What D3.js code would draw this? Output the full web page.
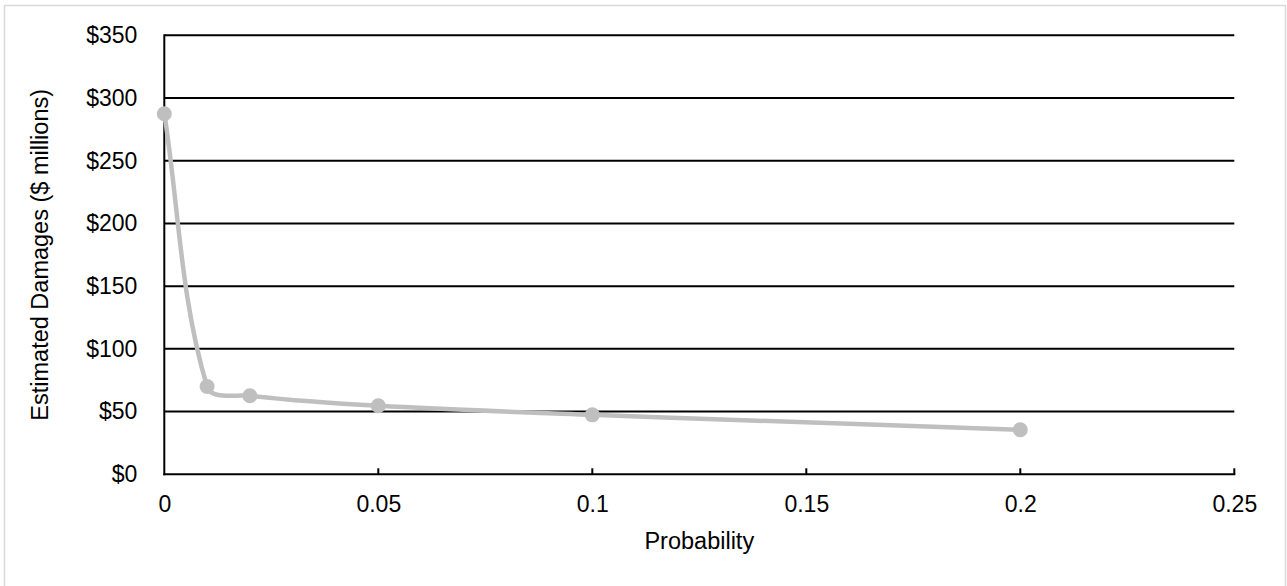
<!DOCTYPE html>
<html>
<head>
<meta charset="utf-8">
<script src="https://cdn.jsdelivr.net/npm/d3@7"></script>
<style>
html,body{margin:0;padding:0;background:#fff;}
svg{display:block;font-family:"Liberation Sans", Arial, sans-serif;}
</style>
</head>
<body>
<svg id="chart" width="1287" height="586"></svg>
<script>
const probabilities = [0, 0.01, 0.02, 0.05, 0.1, 0.2];
const damages = [287.5, 70, 62.6, 54.6, 47.4, 35.5];
const xTicks = [0, 0.05, 0.1, 0.15, 0.2, 0.25];
const yTicks = [0, 50, 100, 150, 200, 250, 300, 350];
const xTitle = "Probability";
const yTitle = "Estimated Damages ($ millions)";

const svg = d3.select("#chart");
const W = 1287, H = 586;
const m = {left: 164.3, right: 1234.3, top: 35.3, bottom: 474.3};

svg.append("rect").attr("x", 4.5).attr("y", 5.5).attr("width", W - 5.5 - 0.5).attr("height", H + 10)
  .attr("fill", "#fff").attr("stroke", "#d9d9d9").attr("stroke-width", 1.5);

const x = d3.scaleLinear().domain([0, 0.25]).range([m.left, m.right]);
const y = d3.scaleLinear().domain([0, 350]).range([m.bottom, m.top]);

// gridlines
svg.append("g").selectAll("line").data(yTicks.filter(d => d > 0)).join("line")
  .attr("x1", m.left).attr("x2", m.right)
  .attr("y1", d => y(d)).attr("y2", d => y(d))
  .attr("stroke", "#000").attr("stroke-width", 2);

// y axis
const yAxis = svg.append("g").attr("transform", `translate(${m.left},0)`)
  .call(d3.axisLeft(y).tickValues(yTicks).tickSize(0).tickPadding(27).tickFormat(d => "$" + d));
yAxis.select(".domain").remove();
yAxis.selectAll("text").attr("font-size", 23).attr("fill", "#000")
  .attr("font-family", "Liberation Sans, Arial, sans-serif");
svg.append("line").attr("x1", m.left).attr("x2", m.left).attr("y1", m.top - 1).attr("y2", m.bottom + 1)
  .attr("stroke", "#000").attr("stroke-width", 2);

// x axis (inside ticks)
const xAxis = svg.append("g").attr("transform", `translate(0,${m.bottom})`)
  .call(d3.axisBottom(x).tickValues(xTicks).tickSize(0).tickPadding(21).tickFormat(d => String(d)));
xAxis.select(".domain").remove();
xAxis.selectAll("text").attr("font-size", 23).attr("fill", "#000")
  .attr("font-family", "Liberation Sans, Arial, sans-serif");
svg.append("line").attr("x1", m.left - 1).attr("x2", m.right + 1).attr("y1", m.bottom).attr("y2", m.bottom)
  .attr("stroke", "#000").attr("stroke-width", 2);
svg.append("g").selectAll("line").data(xTicks.filter(d => d > 0)).join("line")
  .attr("x1", d => x(d)).attr("x2", d => x(d))
  .attr("y1", m.bottom).attr("y2", m.bottom - 6)
  .attr("stroke", "#000").attr("stroke-width", 2);

// series: Excel-like smoothed line (tangent from neighbours, control length ∝ segment length)
const pts = probabilities.map((p, i) => [p, damages[i]]);
function smoothPath(data) {
  const P = data.map(d => [x(d[0]), y(d[1])]);
  const n = P.length;
  const tan = P.map((p, i) => {
    const a = P[Math.max(0, i - 1)], b = P[Math.min(n - 1, i + 1)];
    const dx = b[0] - a[0], dy = b[1] - a[1], L = Math.hypot(dx, dy) || 1;
    return [dx / L, dy / L];
  });
  const path = d3.path();
  path.moveTo(P[0][0], P[0][1]);
  for (let i = 0; i < n - 1; i++) {
    const a = P[i], b = P[i + 1];
    const L = Math.hypot(b[0] - a[0], b[1] - a[1]) / 3;
    path.bezierCurveTo(a[0] + tan[i][0] * L, a[1] + tan[i][1] * L,
                       b[0] - tan[i + 1][0] * L, b[1] - tan[i + 1][1] * L, b[0], b[1]);
  }
  return path.toString();
}
svg.append("path").attr("d", smoothPath(pts))
  .attr("fill", "none").attr("stroke", "#bfbfbf").attr("stroke-width", 4.5)
  .attr("stroke-linejoin", "round").attr("stroke-linecap", "round");
svg.append("g").selectAll("circle").data(pts).join("circle")
  .attr("cx", d => x(d[0])).attr("cy", d => y(d[1])).attr("r", 7.5)
  .attr("fill", "#bfbfbf");

// titles
svg.append("text").attr("x", (m.left + m.right) / 2).attr("y", 549)
  .attr("text-anchor", "middle").attr("font-size", 23.5).attr("fill", "#000").text(xTitle);
svg.append("text").attr("transform", `translate(40,${(m.top + m.bottom) / 2}) rotate(-90)`)
  .attr("text-anchor", "middle").attr("dominant-baseline", "central")
  .attr("font-size", 23.5).attr("fill", "#000").text(yTitle);
</script>
</body>
</html>
